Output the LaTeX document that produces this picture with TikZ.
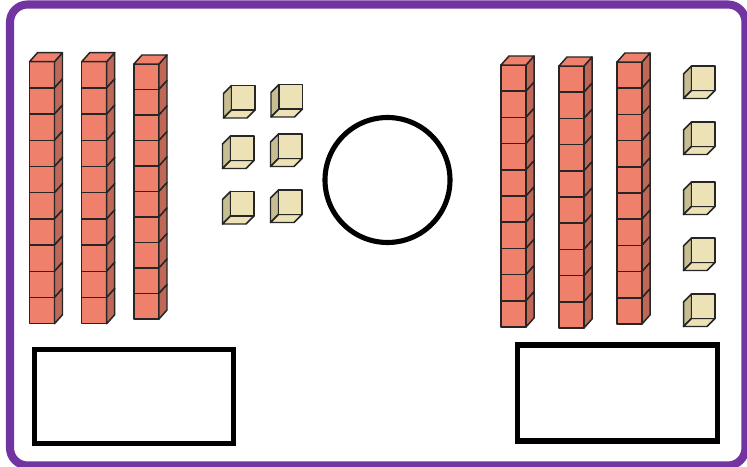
\documentclass[tikz,border=0pt]{standalone}
\usepackage{tikz}

\definecolor{rodfront}{RGB}{238,128,108}
\definecolor{rodside}{RGB}{192,104,88}
\definecolor{unitfront}{RGB}{236,226,182}
\definecolor{unitside}{RGB}{198,189,146}
\definecolor{framepurple}{RGB}{114,52,160}

% a rod of ten: #1 = left x, #2 = top y of the front, #3 = cube height
\newcommand{\tenrod}[3]{
    \foreach \i in {0,...,9} {
        \draw[rodedge, fill=rodfront] ({#1},{#2+\i*#3}) rectangle ({#1+25},{#2+(\i+1)*#3});
        \draw[rodedge, fill=rodside] ({#1+25},{#2+\i*#3}) -- ({#1+33},{#2+\i*#3-9}) -- ({#1+33},{#2+(\i+1)*#3-9}) -- ({#1+25},{#2+(\i+1)*#3}) -- cycle;
    }
    \draw[rodedge, fill=rodfront] ({#1},{#2}) -- ({#1+8},{#2-9}) -- ({#1+33},{#2-9}) -- ({#1+25},{#2}) -- cycle;
}
% a unit cube: #1,#2 = top left corner of the front face
\newcommand{\unitcube}[2]{
    \draw[rodedge, fill=unitside] ({#1},{#2}) -- ({#1-8},{#2+8}) -- ({#1-8},{#2+32.5}) -- ({#1},{#2+24.5}) -- cycle;
    \draw[rodedge, fill=unitfront] ({#1},{#2+24.5}) -- ({#1-8},{#2+32.5}) -- ({#1+15.5},{#2+32.5}) -- ({#1+23.5},{#2+24.5}) -- cycle;
    \draw[rodedge, fill=unitfront] ({#1},{#2}) rectangle ({#1+23.5},{#2+24.5});
}

\begin{document}
\begin{tikzpicture}[x=0.2mm, y=-0.2mm,
    rodedge/.style={draw=black!85, line width=0.85pt, line join=round},
    answerbox/.style={draw=black, line width=2.9pt},
    framebox/.style={draw=framepurple, line width=4.6pt, rounded corners=10pt}]
    \useasboundingbox (0,0) rectangle (747,467);
    \fill[white] (0,0) rectangle (747,467);

    \draw[framebox] (10,4.5) rectangle (745.5,465.5);

    % tens on the left
    \tenrod{29.5}{61.7}{26.2}
    \tenrod{81.7}{61.7}{26.2}
    \tenrod{134}{64}{25.5}

    % ones on the left
    \unitcube{231.5}{85.5}
    \unitcube{279}{84.5}
    \unitcube{230.5}{136}
    \unitcube{278.5}{134}
    \unitcube{230.5}{191.5}
    \unitcube{278.5}{190}

    % tens on the right
    \tenrod{501}{65}{26.2}
    \tenrod{559}{66}{26.2}
    \tenrod{617}{62}{26.2}

    % ones on the right
    \unitcube{691.5}{66}
    \unitcube{691.5}{122}
    \unitcube{691.5}{182}
    \unitcube{691.5}{238}
    \unitcube{691.5}{294}

    \node[draw=black, line width=2.9pt, circle, minimum size=125*0.2mm, inner sep=0pt] (sign) at (387.5,180) {};
    \node[answerbox, minimum width=199*0.2mm, minimum height=94*0.2mm, inner sep=0pt] (leftanswer) at (134,396.5) {};
    \node[answerbox, minimum width=200*0.2mm, minimum height=96*0.2mm, inner sep=0pt] (rightanswer) at (617.5,393) {};
\end{tikzpicture}
\end{document}
